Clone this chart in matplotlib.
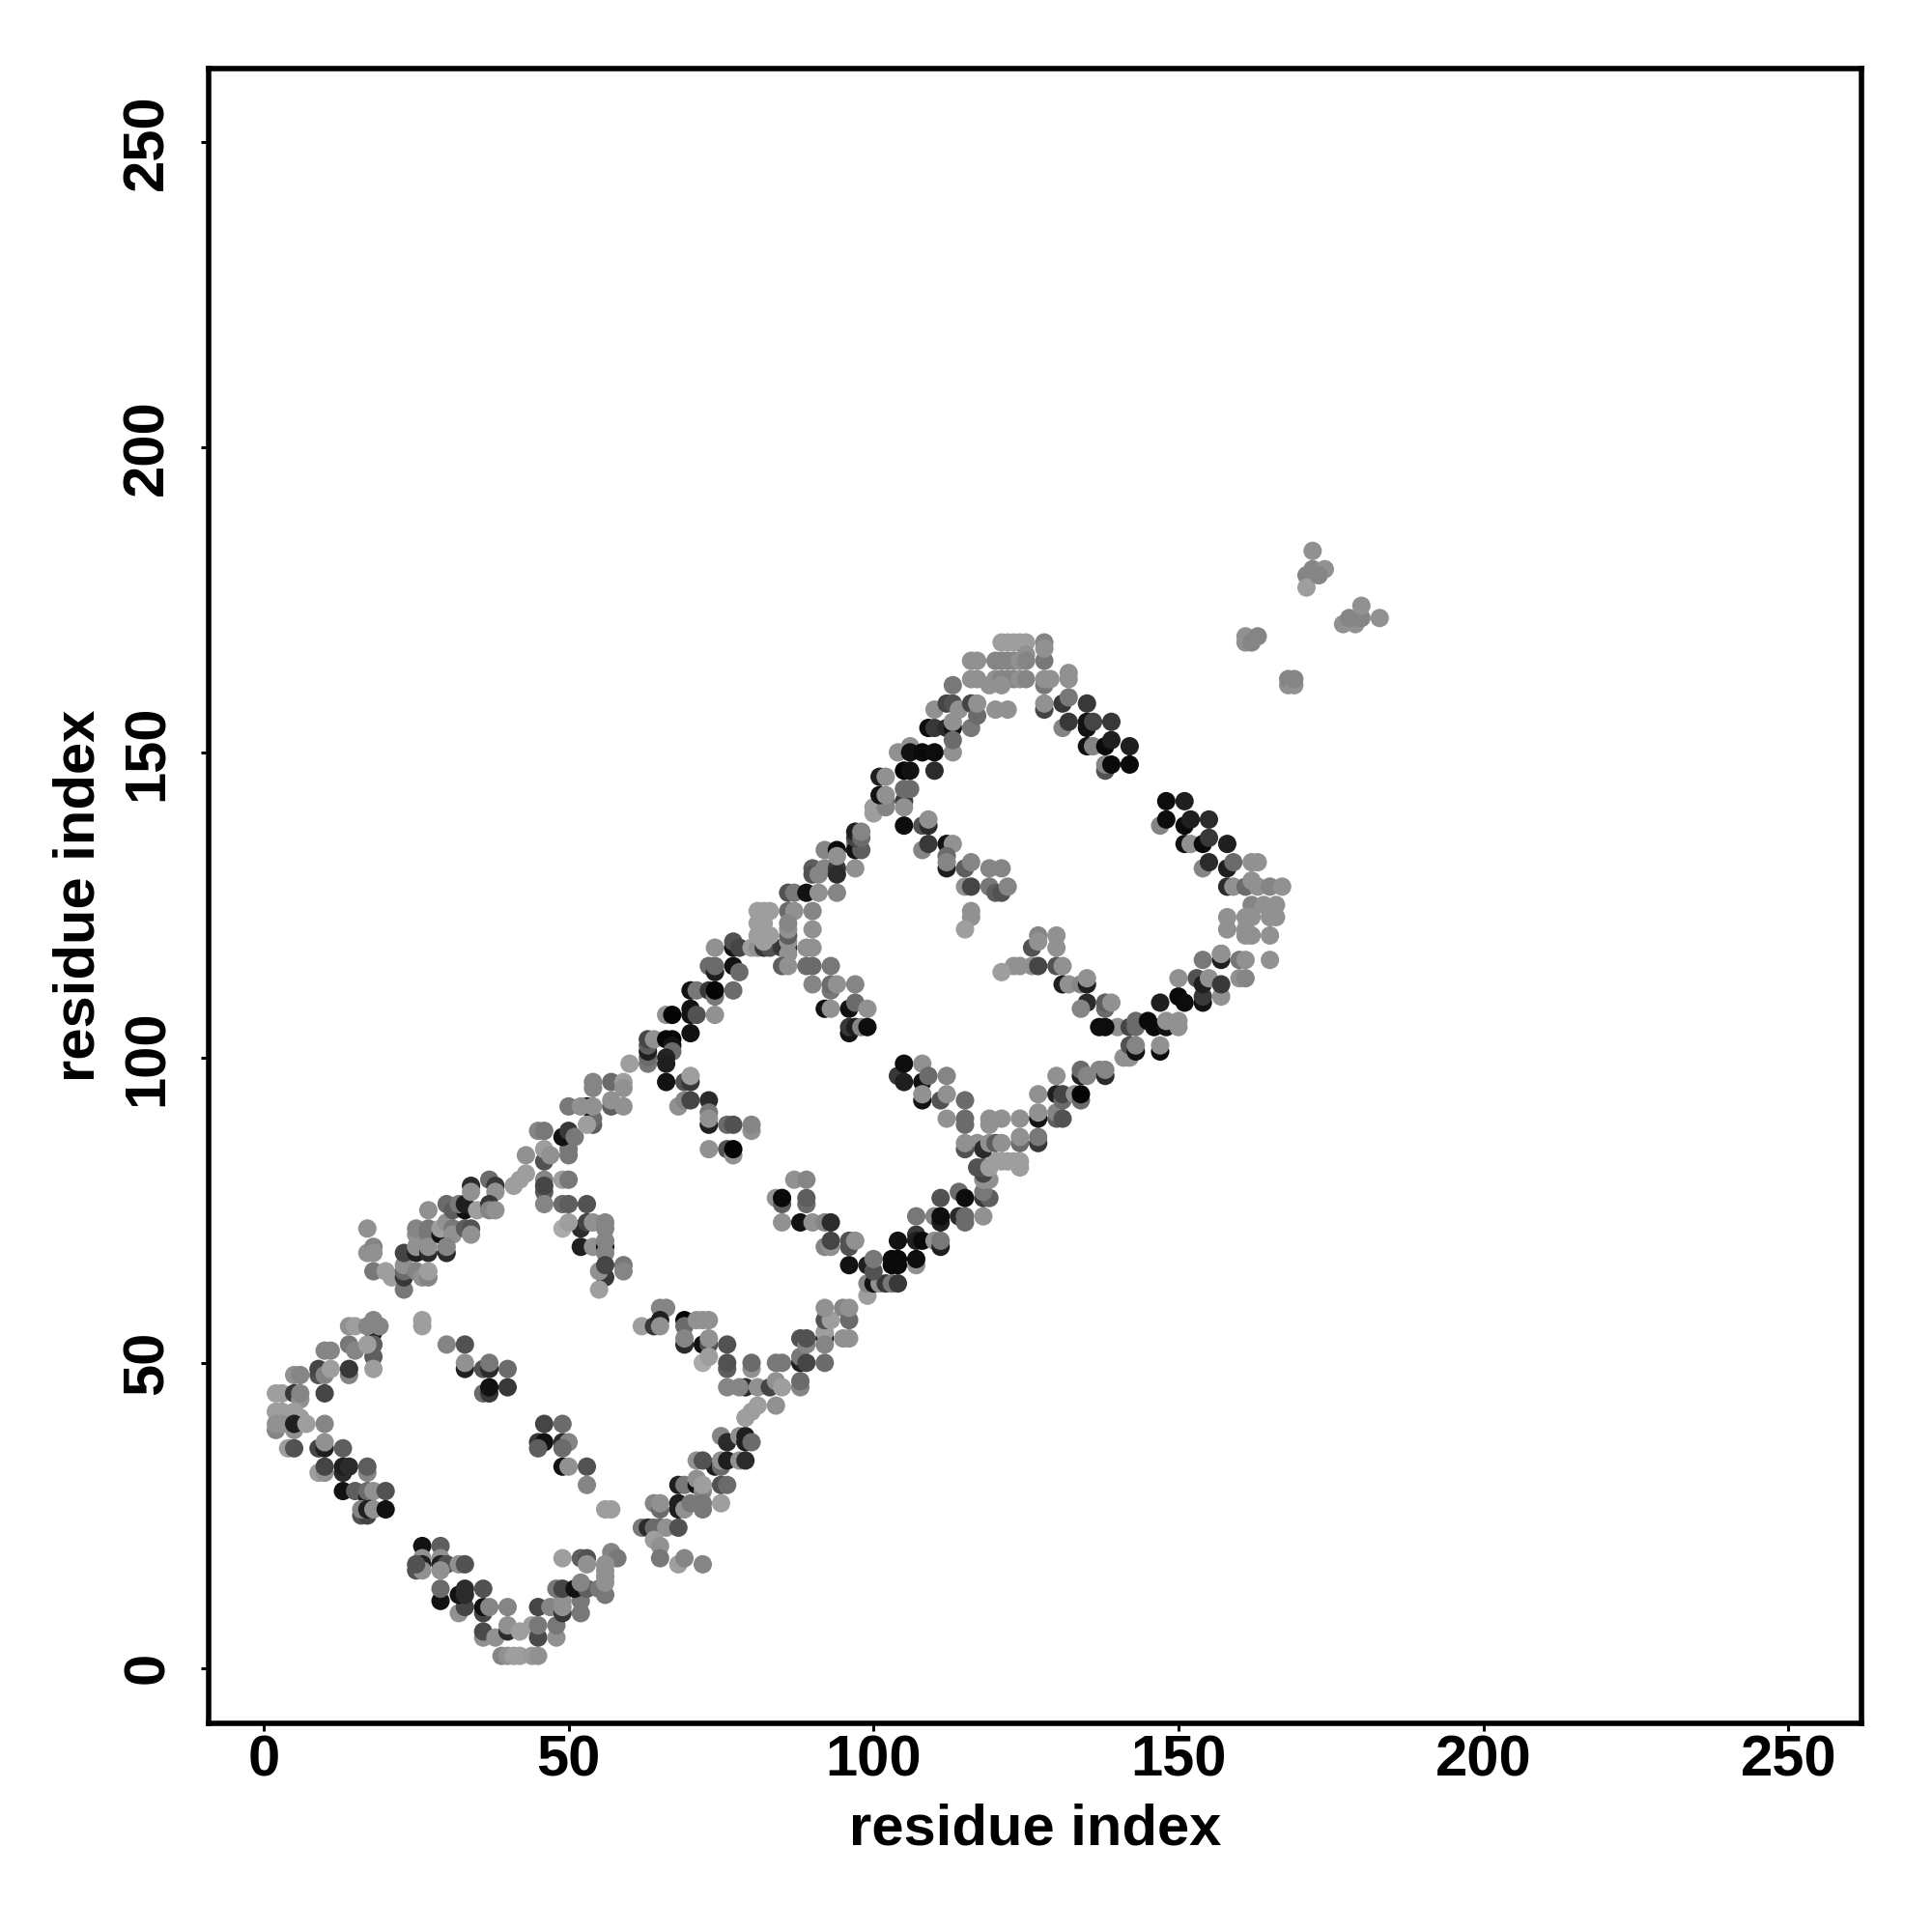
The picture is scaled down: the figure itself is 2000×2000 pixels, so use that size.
#!/usr/bin/env python3
# -*- coding: utf-8 -*-
"""contact map, residue index vs residue index, grey = contact strength"""

import matplotlib
matplotlib.use("Agg")
import matplotlib.pyplot as plt

# (residue i, residue j, grey level), by region
bottom_arc = [
    (39,2,.5),(40,2,.55),(41,2,.6),(42,2,.6),(44,2,.58),(45,2,.55),
    (36,5,.55),(36,6,.27),(38,5,.55),(40,6,.15),(40,7,.55),(42,6,.6),(44,7,.6),
    (45,5,.27),(45,7,.45),(48,5,.55),(48,7,.45),
    (32,9,.55),(33,10,.25),(36,9,.25),(36,10,.05),(37,10,.5),(40,10,.5),(45,10,.25),
    (47,10,.5),(49,9,.2),(49,10,.55),(49,11,.55),(52,9,.45),(52,11,.45),
    (29,11,.05),(29,13,.4),(32,12,.05),(33,13,.15),(33,12,.15),(36,13,.3),
    (48,13,.45),(49,13,.25),(51,13,.05),(53,13,.35),(52,14,.5),
    (56,12,.45),(55,13,.45),(56,14,.55),
    (26,20,.05),(26,18,.55),(26,17,.1),(25,16,.3),(26,16,.55),(25,17,.3),
    (29,20,.35),(29,18,.55),(29,17,.1),(30,17,.3),(29,16,.55),(32,17,.55),(33,17,.3),
    (49,18,.6),(52,18,.35),(53,18,.3),(53,17,.55),(57,18,.1),(57,19,.5),(58,18,.45),
    (56,17,.55),(56,16,.55),(56,15,.55),
]

inner_low = [
    (56,26,.6),(57,26,.6),(53,33,.3),(53,30,.5),(49,33,.05),(50,33,.55),
    (46,40,.25),(49,40,.4),(45,37,.2),(46,37,.05),(45,36,.35),(49,37,.15),(50,37,.5),(49,36,.4),
    (26,57,.6),(26,56,.6),(30,53,.5),(33,53,.3),(33,49,.1),(33,50,.55),
    (36,49,.3),(37,49,.15),(37,50,.45),(40,49,.4),(36,45,.4),(37,45,.2),(37,46,.05),(40,46,.2),
]

left_arc = [
    (18,55,.1),(18,57,.5),(19,56,.5),(14,56,.55),(15,56,.6),(17,56,.5),
    (14,53,.45),(15,52,.5),(18,53,.35),(18,51,.35),(17,53,.6),(10,52,.5),(11,52,.5),
    (9,48,.3),(9,49,.25),(10,48,.5),(11,49,.6),(14,48,.5),(14,49,.2),(18,49,.6),
    (5,48,.55),(6,48,.5),(2,45,.6),(3,45,.6),(5,45,.2),(6,44,.55),(6,45,.5),(10,45,.25),
    (2,42,.6),(3,42,.6),(5,42,.6),(6,41,.6),(2,39,.5),(5,39,.55),(2,40,.55),(3,40,.55),
    (5,40,.1),(7,40,.6),(10,40,.5),
    (4,36,.6),(5,36,.3),(9,36,.25),(10,36,.1),(10,37,.55),(13,36,.35),
    (9,32,.6),(10,32,.55),(10,33,.25),(13,32,.15),(13,33,.1),(14,33,.15),(17,32,.5),(17,33,.35),
    (13,29,.05),(15,29,.35),(17,28,.1),(17,29,.4),(18,29,.55),(20,29,.3),
    (16,25,.3),(17,25,.25),(16,26,.5),(17,26,.1),(18,26,.55),(20,26,.05),
]

diag_low = [
    (17,72,.55),(17,68,.55),(18,69,.5),(18,68,.55),(18,65,.45),(20,65,.6),(21,64,.6),
    (23,62,.45),(23,64,.2),(23,65,.4),(23,66,.55),(23,68,.25),
    (25,71,.55),(25,72,.5),(27,71,.45),(27,72,.45),(27,75,.55),
    (25,68,.1),(25,69,.55),(27,68,.15),(27,69,.55),(25,65,.5),(26,64,.55),(27,64,.5),(27,65,.6),
    (29,71,.05),(29,72,.6),(30,73,.55),(31,72,.45),(31,71,.55),(30,68,.15),(30,69,.5),
    (33,72,.35),(34,72,.3),(34,71,.55),(30,76,.4),(31,75,.35),
    (33,75,.05),(32,76,.45),(33,76,.1),(35,75,.6),(34,79,.15),(34,78,.55),
    (37,80,.4),(38,79,.2),(38,78,.55),(37,76,.2),(37,75,.5),(38,75,.55),
    (41,79,.6),(42,80,.6),(43,81,.6),(46,80,.5),(46,78,.35),(46,79,.25),(46,76,.5),
    (49,80,.6),(50,80,.45),(49,76,.4),(50,76,.35),(53,76,.3),
    (43,84,.55),(46,83,.3),(46,85,.6),(47,84,.55),(50,85,.45),(50,84,.45),
    (45,88,.5),(46,88,.45),(49,87,.05),(50,88,.2),(51,87,.45),(50,92,.45),
    (54,89,.35),(54,90,.4),(53,89,.6),(53,92,.05),(54,92,.55),(52,92,.55),
    (54,95,.5),(54,96,.5),(57,96,.4),(59,96,.6),(59,95,.55),
    (57,92,.35),(57,93,.55),(59,92,.55),
    (60,99,.6),(63,99,.45),(63,100,.4),(63,101,.1),(63,102,.35),(63,103,.25),(64,103,.55),
    (66,103,.0),(67,103,.0),(67,102,.05),(67,101,.4),(66,100,.12),(66,99,.1),(66,96,.05),
    (66,107,.55),(67,107,.0),(70,108,.05),(70,107,.05),(71,107,.3),(70,104,.05),(74,107,.55),
    (70,111,.05),(71,111,.45),(73,111,.2),(74,110,.45),(74,111,.0),(77,111,.4),
]

inner_a = [
    (52,72,.15),(53,73,.25),(54,73,.55),(49,72,.65),(50,73,.6),(56,73,.5),(56,72,.5),
    (52,69,.1),(54,69,.55),(56,69,.05),(56,70,.5),(56,68,.5),
    (56,64,.2),(55,65,.55),(56,66,.25),(59,66,.45),(59,65,.5),(55,62,.6),
    (69,96,.3),(70,96,.2),(70,97,.6),(68,92,.55),(69,93,.5),(70,93,.25),
    (73,93,.15),(73,89,.1),(73,91,.45),(73,90,.55),(76,89,.4),(77,89,.3),(80,88,.55),(80,89,.5),
    (73,85,.55),(76,85,.3),(77,84,.55),(77,85,.0),
    (62,56,.6),(65,59,.5),(66,59,.5),(64,56,.2),(65,57,.1),(65,56,.55),
    (69,57,.0),(69,56,.4),(71,57,.55),(72,57,.55),(73,57,.55),
    (69,53,.15),(69,54,.5),(72,53,.05),(73,53,.3),(73,54,.55),(76,53,.3),
    (72,50,.65),(73,51,.6),(76,49,.35),(76,50,.3),(80,49,.55),(80,50,.4),
    (84,50,.45),(85,50,.45),(76,46,.5),(79,46,.15),(78,46,.5),(81,46,.55),
    (83,46,.25),(84,47,.55),(85,46,.6),(84,43,.55),(88,46,.5),(88,47,.4),
]

lower_edge = [
    (62,23,.45),(63,23,.15),(64,23,.4),(65,23,.4),(66,23,.55),(68,23,.3),
    (64,27,.5),(65,26,.4),(65,27,.55),(68,26,.1),(68,27,.1),(69,26,.55),
    (64,21,.6),(65,20,.55),(65,18,.45),(68,17,.6),(69,18,.5),(72,17,.5),
    (68,30,.1),(69,30,.45),(71,30,.05),(71,31,.55),(72,29,.5),(72,30,.6),
    (70,27,.45),(72,26,.45),(72,27,.45),(75,27,.6),
    (74,33,.1),(71,34,.55),(72,34,.3),(75,33,.4),(75,34,.55),(76,34,.1),(78,34,.55),(79,34,.15),
    (75,38,.5),(76,37,.15),(78,38,.55),(79,38,.1),(79,37,.1),(80,37,.4),
    (75,30,.3),(76,30,.4),(79,41,.6),(80,42,.6),(81,43,.6),
    (88,50,.1),(88,51,.45),(89,50,.25),(92,50,.4),
    (88,54,.3),(89,53,.5),(89,54,.3),(92,54,.05),(92,55,.6),(92,53,.5),(95,54,.55),(96,54,.55),
    (92,57,.3),(93,57,.6),(95,59,.5),(96,57,.4),(92,59,.55),(96,59,.55),
    (99,61,.6),(99,63,.5),(100,63,.05),(101,63,.55),(102,63,.2),(103,63,.45),(104,63,.2),
    (96,66,.05),(99,66,.1),(100,65,.3),(100,67,.45),
    (103,67,.02),(104,67,.02),(103,66,.02),(104,66,.02),(107,66,.55),(107,67,.03),
    (104,70,.05),(107,71,.2),(107,70,.1),(108,70,.02),(110,70,.55),(111,69,.1),(111,70,.45),
    (107,74,.45),(110,74,.5),(111,73,.1),(111,74,.03),(114,74,.15),(115,73,.4),(115,74,.4),(118,74,.55),
    (111,77,.3),(114,78,.4),(115,77,.03),(118,77,.2),(119,77,.35),(118,78,.45),
    (118,80,.55),(119,80,.55),(118,81,.25),(117,82,.3),(118,82,.3),
    (119,82,.6),(120,83,.6),(121,83,.6),(122,83,.6),(123,83,.6),(124,82,.6),(124,83,.6),
    (117,86,.55),(118,85,.15),(119,86,.55),(120,86,.35),(121,86,.55),(124,86,.4),(124,87,.55),
    (127,86,.2),(127,87,.45),(119,90,.55),(119,89,.55),(121,90,.55),(124,90,.55),
    (127,90,.05),(127,91,.55),(130,90,.35),(130,91,.5),(131,90,.3),
    (127,94,.55),(130,94,.1),(131,93,.4),(131,94,.25),(133,94,.55),(134,93,.4),(134,94,.0),
    (130,97,.55),(134,97,.1),(134,98,.4),(135,97,.5),(137,98,.5),(138,97,.15),(138,98,.5),
    (141,100,.55),(142,100,.55),(142,102,.3),(143,101,.05),(143,102,.5),(147,101,.03),(147,102,.55),
    (137,105,.03),(140,105,.55),(142,105,.25),(143,105,.4),(146,105,.02),
    (143,106,.4),(145,106,.02),(148,105,.05),(148,106,.55),(150,105,.55),(150,106,.55),
    (147,109,.1),(150,110,.02),(151,109,.03),(154,109,.05),(154,110,.2),(157,110,.55),
    (150,113,.55),(153,113,.3),(154,112,.1),(155,113,.55),(157,112,.2),(160,113,.55),(161,113,.5),
    (154,116,.45),(157,116,.1),(157,117,.4),
]

diag_high = [
    (73,115,.4),(74,114,.1),(74,115,.4),(77,115,.05),(78,114,.4),
    (74,118,.55),(77,118,.05),(77,119,.3),(78,118,.25),(80,118,.6),(81,118,.55),
    (82,118,.2),(83,118,.3),(85,118,.2),(86,118,.15),(86,117,.55),(86,119,.55),(86,120,.35),(86,121,.55),
    (81,120,.6),(82,120,.6),(83,120,.6),(82,119,.6),(81,122,.6),(82,122,.6),
    (81,124,.6),(82,124,.6),(83,124,.6),(86,124,.4),(87,124,.55),(90,124,.5),(86,122,.5),
    (86,127,.3),(87,127,.45),(89,127,.05),(91,127,.55),(94,127,.5),
    (90,121,.55),(89,118,.55),(90,118,.55),
    (90,131,.35),(90,130,.3),(91,130,.5),(92,131,.5),(94,131,.2),(94,130,.15),(97,131,.55),
    (92,134,.5),(94,134,.02),(94,133,.55),(97,135,.5),(97,134,.05),(98,134,.35),
    (97,136,.25),(97,137,.1),(98,136,.4),(98,137,.5),
    (100,140,.6),(100,141,.6),(102,142,.4),(102,141,.5),
    (101,143,.05),(102,143,.55),(101,146,.1),(102,146,.55),
    (105,142,.2),(105,141,.55),(105,144,.4),(106,144,.4),(105,147,.0),(106,147,.05),(110,147,.15),
    (104,150,.55),(106,151,.55),(106,150,.05),(108,150,.02),(110,150,.03),(113,150,.55),
    (109,154,.03),(110,154,.2),(112,154,.15),(113,154,.05),(113,155,.55),(113,152,.4),(116,154,.45),
    (110,157,.55),(112,158,.25),(113,158,.3),(113,161,.45),(114,157,.55),(116,158,.25),(117,156,.4),(117,158,.55),
    (116,165,.55),(117,165,.55),(116,162,.55),(117,162,.55),(119,161,.55),
    (120,165,.5),(121,165,.5),(122,165,.5),(123,165,.5),(124,165,.55),
    (121,168,.6),(122,168,.6),(123,168,.6),(124,168,.6),(125,168,.6),(125,166,.55),(125,165,.5),
    (128,165,.45),(128,168,.5),(128,167,.55),
    (120,162,.55),(121,162,.5),(122,162,.5),(123,162,.5),(124,162,.55),(125,162,.5),(121,161,.55),
    (128,161,.45),(128,162,.55),(129,162,.55),(132,163,.55),(132,162,.55),
    (120,157,.55),(122,157,.55),(128,157,.25),(128,158,.55),
]

upper_right = [
    (131,158,.2),(132,159,.45),(135,158,.2),(131,154,.5),(132,155,.2),(135,154,.05),(135,155,.05),(136,155,.25),(139,155,.2),
    (135,151,.05),(136,151,.5),(138,151,.02),(139,152,.1),(142,151,.1),
    (138,147,.3),(138,148,.5),(139,148,.02),(142,148,.02),
    (148,142,.03),(151,142,.1),(147,138,.5),(148,139,.03),(151,138,.02),(152,139,.1),(155,139,.15),
    (151,135,.05),(152,135,.55),(154,135,.02),(155,136,.2),(158,135,.1),
    (154,131,.5),(155,132,.15),(158,131,.1),(159,132,.4),(162,132,.55),(163,132,.55),
    (158,128,.15),(159,128,.55),(161,128,.4),(162,129,.55),(163,128,.55),(165,128,.5),(167,128,.55),
    (158,123,.55),(158,121,.55),(162,125,.5),(161,123,.55),(161,121,.55),(161,120,.55),
    (164,125,.55),(166,125,.55),(165,123,.55),(166,123,.55),(165,120,.55),(162,123,.55),(162,120,.55),
    (160,116,.45),(161,116,.55),(165,116,.55),(157,117,.55),
]

inner_b = [
    (105,138,.03),(108,138,.3),(109,138,.15),(109,139,.55),
    (108,134,.5),(109,135,.2),(112,135,.05),(113,135,.55),(112,133,.4),(112,131,.1),(112,132,.5),
    (115,131,.35),(116,132,.5),(119,131,.5),(121,131,.5),
    (115,128,.55),(116,128,.25),(119,128,.45),(120,127,.35),(121,127,.3),(122,128,.5),
    (116,124,.55),(116,123,.55),(115,121,.6),
    (126,118,.3),(127,120,.5),(127,119,.55),(130,120,.55),(130,118,.55),
    (126,115,.55),(127,115,.25),(130,115,.3),(131,115,.55),(123,115,.55),(124,115,.55),(121,114,.6),
    (131,112,.1),(132,112,.55),(134,112,.5),(135,112,.1),(135,113,.55),
    (135,109,.15),(134,108,.5),(138,108,.4),(138,109,.35),(139,109,.55),(138,105,.03),
    (85,115,.35),(86,115,.55),(89,115,.4),(90,115,.4),(93,115,.45),
    (90,112,.5),(93,111,.45),(93,112,.4),(94,112,.55),(97,112,.5),
    (92,108,.05),(93,108,.55),(96,108,.05),(97,109,.4),(99,108,.55),
    (96,104,.05),(96,105,.2),(97,105,.1),(98,105,.5),(99,105,.03),
    (104,97,.2),(105,96,.1),(105,99,.03),(108,99,.55),(108,96,.05),(109,97,.4),
    (108,93,.05),(108,94,.55),(112,97,.5),(111,93,.3),(112,94,.55),(115,93,.4),
    (112,90,.55),(115,89,.4),(115,90,.4),(115,85,.3),(115,86,.55),
    (87,80,.55),(89,80,.5),(84,77,.55),(85,76,.35),(85,77,.02),(89,76,.4),(89,77,.35),
    (85,73,.55),(88,73,.05),(90,73,.55),(92,73,.5),(93,73,.15),
    (92,69,.5),(93,69,.55),(93,70,.25),(96,69,.3),(96,70,.3),(97,70,.55),
]

far_cluster = [
    (172,183,.55),(171,179,.5),(172,180,.5),(174,180,.55),(171,177,.6),(173,179,.5),
    (177,171,.55),(179,171,.55),(178,172,.5),(180,172,.5),(180,174,.55),(183,172,.55),
    (161,168,.55),(161,169,.55),(162,168,.5),(163,169,.5),
    (168,161,.55),(168,162,.5),(169,161,.55),(169,162,.5),
]

ticks = [0, 50, 100, 150, 200, 250]
axis_label = "residue index"

plt.rcParams['font.family'] = ['Liberation Sans', 'DejaVu Sans']

fig = plt.figure(figsize=(10, 10), dpi=200)
ax = fig.add_axes([0.108, 0.108, 0.8555, 0.8565])

for region in [bottom_arc, inner_low, left_arc, diag_low, inner_a,
               lower_edge, diag_high, upper_right, inner_b, far_cluster]:
    xs = [p[0] for p in region]
    ys = [p[1] for p in region]
    greys = [str(p[2] + 0.02) for p in region]
    ax.scatter(xs, ys, c=greys, s=47, linewidths=0, zorder=3)

ax.set_xlim(-9.02, 262)
ax.set_ylim(-9.05, 262)
ax.set_xticks(ticks)
ax.set_yticks(ticks)
ax.tick_params(axis='x', length=3, width=1.1, labelsize=21.5, pad=1)
ax.tick_params(axis='y', length=3, width=1.1, labelsize=21.5, pad=9.7)
for lab in ax.get_xticklabels():
    lab.set_fontweight('bold')
for lab in ax.get_yticklabels():
    lab.set_fontweight('bold')
    lab.set_rotation(90)
    lab.set_va('center')
for side in ax.spines.values():
    side.set_linewidth(2.0)

ax.set_xlabel(axis_label, fontsize=21.5, fontweight='bold', labelpad=6)
ax.set_ylabel(axis_label, fontsize=21.5, fontweight='bold', labelpad=5.7)

fig.savefig("out.png", dpi=200)
